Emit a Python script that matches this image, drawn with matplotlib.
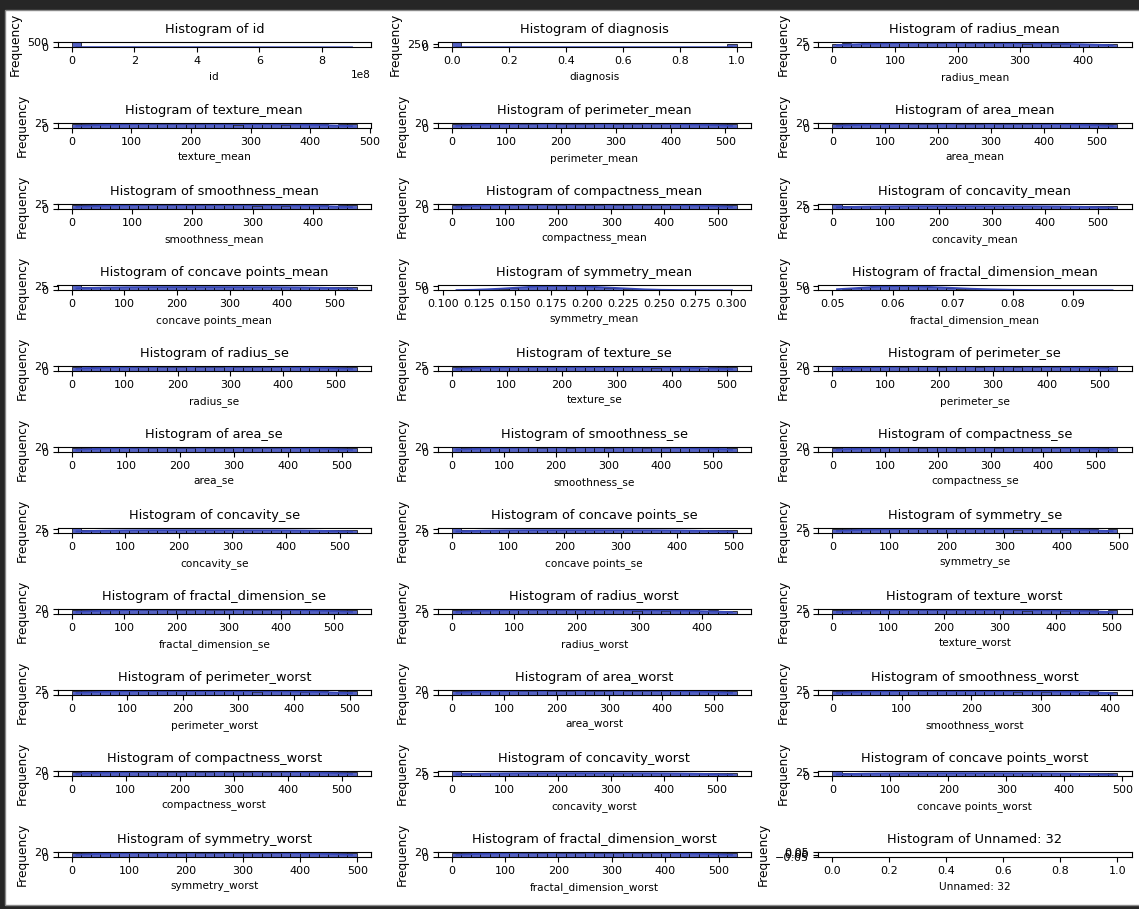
import numpy as np
import matplotlib
matplotlib.use("Agg")
import matplotlib.pyplot as plt
import seaborn as sns
from matplotlib.patches import Rectangle

# column names in the order they were plotted
columns = ['id', 'diagnosis', 'radius_mean', 'texture_mean', 'perimeter_mean', 'area_mean',
           'smoothness_mean', 'compactness_mean', 'concavity_mean', 'concave points_mean',
           'symmetry_mean', 'fractal_dimension_mean', 'radius_se', 'texture_se', 'perimeter_se',
           'area_se', 'smoothness_se', 'compactness_se', 'concavity_se', 'concave points_se',
           'symmetry_se', 'fractal_dimension_se', 'radius_worst', 'texture_worst',
           'perimeter_worst', 'area_worst', 'smoothness_worst', 'compactness_worst',
           'concavity_worst', 'concave points_worst', 'symmetry_worst',
           'fractal_dimension_worst', 'Unnamed: 32']

# value range of each column (most columns are label encoded)
x_lo = [8670, 0, 0, 0, 0, 0, 0, 0, 0, 0, 0.106, 0.04996, 0, 0, 0, 0, 0, 0, 0, 0,
        0, 0, 0, 0, 0, 0, 0, 0, 0, 0, 0, 0, None]
x_hi = [911320502, 1, 455, 478, 521, 538, 473, 536, 536, 541, 0.304, 0.09744, 539, 518, 532,
        527, 546, 540, 532, 506, 497, 544, 456, 510, 513, 543, 410, 528, 538, 491, 499, 534, None]

# 30 bin counts per column
id_counts = [490, 4, 28, 3, 0, 0, 0, 0, 0, 0, 0, 0, 0, 0, 0, 0, 0, 0, 0, 0, 0, 0, 0, 0, 0, 0, 2, 5, 10, 16]
diagnosis_counts = [357] + [0] * 28 + [212]
radius_mean_counts = [16, 18, 17, 19, 20, 18, 21, 22, 24, 20, 19, 21, 23, 22, 20, 18, 19, 21, 20, 18, 17, 19, 18, 17, 16, 17, 16, 16, 17, 16]
texture_mean_counts = [20, 19, 21, 18, 20, 22, 19, 24, 21, 20, 19, 18, 20, 21, 22, 19, 18, 17, 20, 19, 18, 19, 17, 18, 20, 19, 18, 17, 18, 19]
perimeter_mean_counts = [19, 18, 20, 19, 18, 21, 20, 19, 18, 20, 22, 19, 18, 17, 19, 20, 21, 19, 18, 19, 20, 18, 17, 19, 18, 19, 20, 18, 19, 18]
area_mean_counts = [18, 19, 19, 20, 18, 19, 21, 20, 19, 18, 19, 20, 22, 19, 18, 19, 20, 18, 19, 18, 19, 20, 18, 19, 18, 19, 18, 19, 18, 18]
smoothness_mean_counts = [18, 19, 20, 22, 21, 19, 24, 20, 21, 19, 18, 22, 20, 19, 21, 18, 19, 20, 18, 17, 19, 18, 17, 18, 19, 20, 18, 17, 18, 19]
compactness_mean_counts = [19, 18, 20, 19, 21, 19, 18, 20, 19, 22, 18, 19, 20, 19, 18, 19, 20, 19, 18, 21, 19, 18, 19, 20, 18, 19, 18, 19, 18, 19]
concavity_mean_counts = [31, 18, 19, 20, 18, 19, 20, 19, 18, 19, 20, 18, 19, 18, 19, 20, 18, 19, 18, 17, 19, 18, 19, 18, 17, 18, 19, 18, 17, 18]
concave_points_mean_counts = [30, 18, 19, 18, 19, 20, 18, 19, 18, 19, 18, 20, 19, 18, 19, 18, 19, 18, 17, 18, 19, 18, 17, 18, 19, 18, 17, 18, 19, 18]
symmetry_mean_counts = [1, 1, 2, 5, 9, 16, 23, 33, 42, 50, 54, 56, 52, 48, 42, 35, 27, 19, 13, 9, 6, 4, 3, 2, 2, 1, 1, 0, 1, 1]
fractal_dimension_mean_counts = [3, 10, 22, 35, 48, 58, 60, 55, 50, 45, 38, 32, 26, 20, 15, 12, 9, 7, 5, 4, 3, 2, 2, 1, 1, 1, 0, 0, 1, 1]
radius_se_counts = [19, 20, 18, 19, 21, 19, 18, 19, 20, 19, 18, 19, 22, 19, 18, 19, 20, 19, 18, 19, 18, 19, 20, 18, 19, 18, 19, 18, 19, 18]
texture_se_counts = [19, 20, 21, 19, 20, 24, 19, 18, 20, 19, 21, 18, 19, 20, 18, 19, 20, 19, 18, 19, 18, 17, 19, 18, 19, 18, 17, 18, 19, 18]
perimeter_se_counts = [20, 19, 18, 19, 20, 21, 19, 18, 19, 20, 19, 18, 19, 21, 19, 18, 19, 20, 19, 18, 19, 18, 19, 18, 19, 20, 18, 19, 18, 19]
area_se_counts = [19, 18, 20, 21, 19, 18, 19, 20, 19, 22, 19, 18, 19, 20, 19, 18, 19, 20, 18, 19, 18, 19, 18, 19, 18, 19, 20, 18, 19, 18]
smoothness_se_counts = [19, 18, 19, 20, 19, 18, 19, 20, 19, 18, 21, 19, 18, 19, 20, 19, 18, 19, 20, 19, 18, 19, 18, 19, 20, 18, 19, 18, 19, 18]
compactness_se_counts = [18, 19, 20, 19, 18, 19, 21, 19, 20, 18, 19, 20, 19, 18, 19, 20, 19, 18, 19, 21, 19, 18, 19, 18, 19, 20, 18, 19, 18, 19]
concavity_se_counts = [31, 18, 19, 18, 20, 19, 18, 19, 20, 18, 19, 18, 19, 20, 18, 19, 18, 19, 17, 18, 19, 18, 19, 17, 18, 19, 18, 17, 18, 19]
concave_points_se_counts = [31, 19, 18, 19, 18, 20, 19, 18, 19, 20, 18, 19, 18, 19, 18, 20, 19, 18, 17, 19, 18, 19, 18, 17, 19, 18, 17, 18, 19, 18]
symmetry_se_counts = [19, 20, 18, 21, 19, 24, 20, 19, 18, 19, 20, 21, 19, 18, 19, 20, 18, 19, 18, 17, 19, 18, 19, 18, 17, 18, 19, 18, 17, 18]
fractal_dimension_se_counts = [19, 18, 19, 20, 18, 19, 20, 19, 18, 21, 19, 18, 19, 20, 19, 18, 19, 22, 19, 18, 19, 18, 19, 20, 18, 19, 18, 19, 18, 19]
radius_worst_counts = [18, 19, 20, 21, 22, 24, 21, 20, 19, 18, 21, 20, 19, 18, 19, 20, 18, 19, 18, 17, 18, 19, 17, 18, 19, 18, 17, 18, 17, 17]
texture_worst_counts = [19, 20, 18, 21, 20, 19, 22, 24, 20, 19, 18, 20, 19, 21, 18, 19, 20, 18, 19, 18, 17, 19, 18, 19, 17, 18, 19, 18, 17, 18]
perimeter_worst_counts = [18, 20, 19, 21, 24, 20, 19, 21, 20, 18, 19, 20, 19, 18, 20, 19, 18, 19, 18, 17, 19, 18, 19, 18, 17, 19, 18, 17, 18, 19]
area_worst_counts = [19, 18, 20, 19, 18, 19, 21, 19, 18, 20, 19, 18, 19, 22, 19, 18, 19, 20, 19, 18, 19, 18, 19, 20, 18, 19, 18, 19, 18, 19]
smoothness_worst_counts = [20, 19, 21, 22, 20, 19, 21, 24, 20, 19, 18, 20, 19, 18, 19, 20, 18, 19, 18, 17, 19, 18, 17, 18, 19, 18, 17, 18, 17, 17]
compactness_worst_counts = [19, 20, 18, 19, 21, 19, 18, 19, 20, 19, 18, 19, 20, 18, 19, 22, 19, 18, 19, 20, 19, 18, 19, 18, 19, 20, 18, 19, 18, 19]
concavity_worst_counts = [31, 19, 18, 19, 20, 18, 19, 18, 19, 20, 18, 19, 18, 19, 18, 19, 20, 18, 17, 19, 18, 19, 18, 17, 18, 19, 18, 17, 18, 19]
concave_points_worst_counts = [31, 18, 19, 20, 18, 19, 18, 19, 20, 18, 19, 18, 19, 18, 20, 19, 18, 19, 17, 18, 19, 18, 17, 19, 18, 17, 18, 19, 18, 17]
symmetry_worst_counts = [19, 18, 20, 19, 18, 21, 19, 18, 19, 20, 19, 18, 22, 19, 18, 19, 20, 19, 18, 19, 18, 19, 20, 18, 19, 18, 19, 18, 19, 18]
fractal_dimension_worst_counts = [18, 19, 20, 19, 18, 19, 21, 19, 18, 19, 20, 19, 18, 19, 22, 19, 18, 19, 20, 18, 19, 18, 19, 18, 19, 20, 18, 19, 18, 19]

bin_counts = [id_counts, diagnosis_counts, radius_mean_counts, texture_mean_counts,
              perimeter_mean_counts, area_mean_counts, smoothness_mean_counts,
              compactness_mean_counts, concavity_mean_counts, concave_points_mean_counts,
              symmetry_mean_counts, fractal_dimension_mean_counts, radius_se_counts,
              texture_se_counts, perimeter_se_counts, area_se_counts, smoothness_se_counts,
              compactness_se_counts, concavity_se_counts, concave_points_se_counts,
              symmetry_se_counts, fractal_dimension_se_counts, radius_worst_counts,
              texture_worst_counts, perimeter_worst_counts, area_worst_counts,
              smoothness_worst_counts, compactness_worst_counts, concavity_worst_counts,
              concave_points_worst_counts, symmetry_worst_counts,
              fractal_dimension_worst_counts, None]

# layout in pixels
W, H = 1139, 909
col_left = [57.5, 437.5, 818]
ax_w = 313.5
first_top = 41.7
row_step = 81
ax_h = 5.6
bar_color = '#3747b8'

fig = plt.figure(figsize=(W / 100, H / 100), dpi=100)
fig.patch.set_facecolor('#262626')
# white page inside the dark screenshot frame
fig.add_artist(Rectangle((5 / W, 4 / H), 1, (H - 14) / H, transform=fig.transFigure,
                         facecolor='white', edgecolor='#8a8a8a', linewidth=1, zorder=-10))

for i, name in enumerate(columns):
    r, c = divmod(i, 3)
    top = first_top + row_step * r
    ax = fig.add_axes([col_left[c] / W, 1 - (top + ax_h) / H, ax_w / W, ax_h / H])

    cnt = bin_counts[i]
    if cnt is not None:
        lo, hi = x_lo[i], x_hi[i]
        n = len(cnt)
        centers = lo + (np.arange(n) + 0.5) * (hi - lo) / n
        sns.histplot(x=centers, weights=cnt, bins=n, binrange=(lo, hi), kde=True,
                     color=bar_color, alpha=0.85, edgecolor='black', linewidth=0.5, ax=ax,
                     line_kws={'linewidth': 1.3})
    else:
        # all values missing -> empty axes
        ax.set_xlim(-0.05, 1.05)
        ax.set_ylim(-0.055, 0.055)

    ax.set_title(f'Histogram of {name}', fontsize=9.3, pad=6.5)
    ax.set_xlabel(name, fontsize=7.6, labelpad=4)
    ax.set_ylabel('Frequency', fontsize=8.8)
    ax.tick_params(labelsize=8, length=3.5, pad=3)
    ax.xaxis.get_offset_text().set_fontsize(7.6)

fig.savefig('out.png', dpi=100, facecolor=fig.get_facecolor())
